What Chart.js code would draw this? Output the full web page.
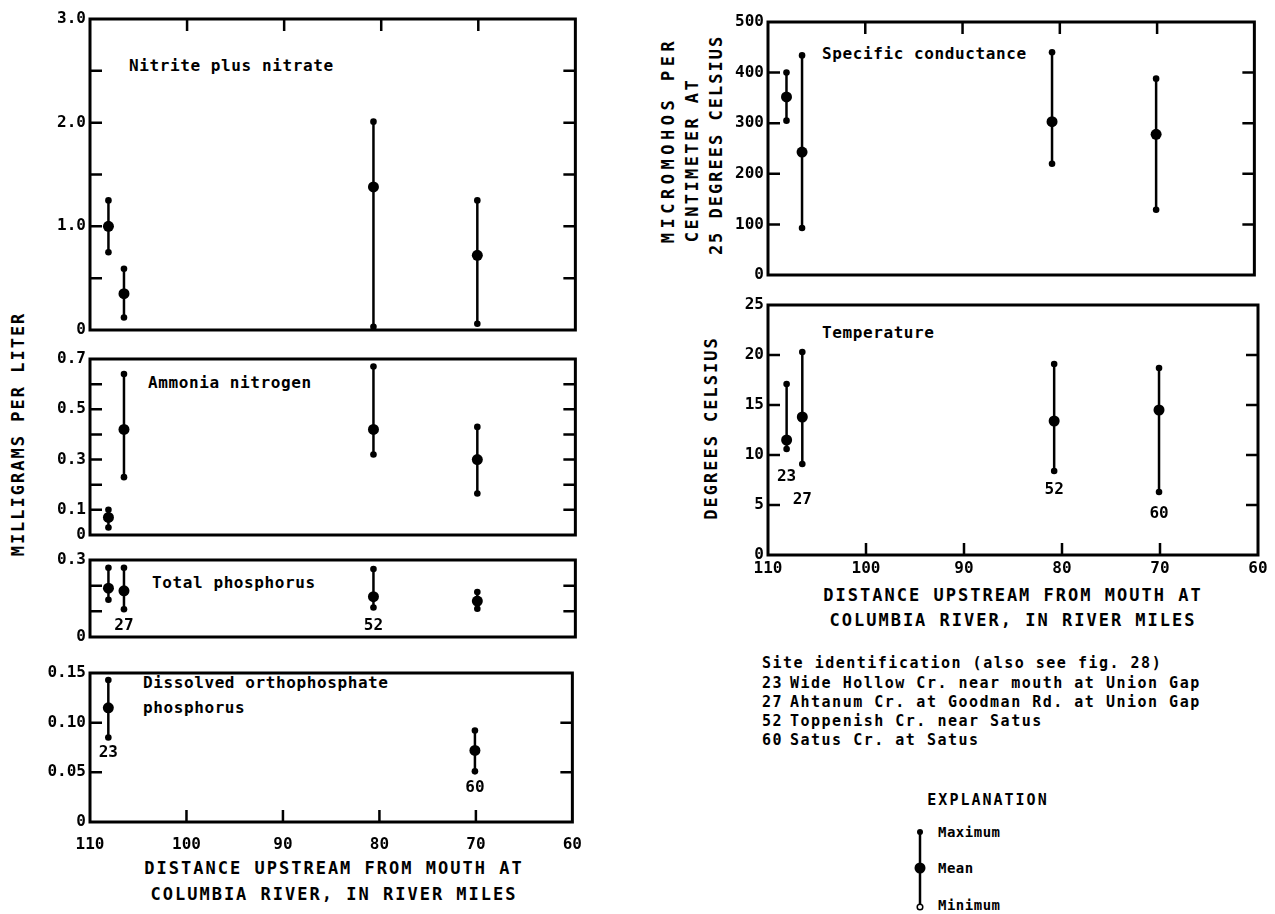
<!DOCTYPE html>
<html>
<head>
<meta charset="utf-8">
<script src="https://cdn.jsdelivr.net/npm/chart.js@4.4.1/dist/chart.umd.min.js"></script>
<style>
  body { margin: 0; background: #fff; }
  #page { position: relative; width: 1275px; height: 914px; overflow: hidden;
          font-family: "DejaVu Sans Mono", "Liberation Mono", monospace; font-weight: bold; color: #000; }
  #page canvas { position: absolute; }
  .t { position: absolute; white-space: nowrap; transform: translateY(-50%); }
  .lbl { font-size: 16px; letter-spacing: 0.6px; }
  .axt { position: absolute; white-space: nowrap; font-size: 17px; letter-spacing: 2px; transform: translate(-50%, -50%); }
  .rot { position: absolute; white-space: nowrap; font-size: 17px; letter-spacing: 2px; transform: translate(-50%, -50%) rotate(-90deg); }
  .site { font-size: 15px; letter-spacing: 1.5px; }
</style>
</head>
<body>
<div id="page">
  <!-- panel captions -->
  <div class="t lbl" style="left:129px;top:65px">Nitrite plus nitrate</div>
  <div class="t lbl" style="left:148px;top:382px">Ammonia nitrogen</div>
  <div class="t lbl" style="left:152px;top:582px">Total phosphorus</div>
  <div class="t lbl" style="left:143px;top:682px">Dissolved orthophosphate</div>
  <div class="t lbl" style="left:143px;top:707px">phosphorus</div>
  <div class="t lbl" style="left:822px;top:53px">Specific conductance</div>
  <div class="t lbl" style="left:822px;top:332px">Temperature</div>

  <!-- axis titles -->
  <div class="rot" style="left:18px;top:434px">MILLIGRAMS PER LITER</div>
  <div class="axt" style="left:334px;top:868px">DISTANCE UPSTREAM FROM MOUTH AT</div>
  <div class="axt" style="left:334px;top:894px">COLUMBIA RIVER, IN RIVER MILES</div>
  <div class="rot" style="left:668px;top:140px;letter-spacing:4.5px">MICROMOHOS PER</div>
  <div class="rot" style="left:692px;top:160px;letter-spacing:2.4px">CENTIMETER AT</div>
  <div class="rot" style="left:716px;top:145px;letter-spacing:2px">25 DEGREES CELSIUS</div>
  <div class="rot" style="left:711px;top:428px">DEGREES CELSIUS</div>
  <div class="axt" style="left:1013px;top:595px">DISTANCE UPSTREAM FROM MOUTH AT</div>
  <div class="axt" style="left:1013px;top:620px">COLUMBIA RIVER, IN RIVER MILES</div>

  <!-- site identification -->
  <div class="t site" style="left:762px;top:663px">Site identification (also see fig. 28)</div>
  <div id="siteList"></div>

  <!-- explanation -->
  <div class="axt" style="left:988px;top:800px;font-size:15px">EXPLANATION</div>
  <div class="t site" style="left:938px;top:832px;font-size:14px;letter-spacing:0.5px">Maximum</div>
  <div class="t site" style="left:938px;top:868px;font-size:14px;letter-spacing:0.5px">Mean</div>
  <div class="t site" style="left:938px;top:905px;font-size:14px;letter-spacing:0.5px">Minimum</div>
  <canvas id="legendMark" width="30" height="96" style="left:905px;top:822px"></canvas>
</div>

<script>
// ---- data ----
const sites = ['23', '27', '52', '60'];
const siteNames = [
  'Wide Hollow Cr. near mouth at Union Gap',
  'Ahtanum Cr. at Goodman Rd. at Union Gap',
  'Toppenish Cr. near Satus',
  'Satus Cr. at Satus'
];
const riverMile = [108.1, 106.5, 80.8, 70.1];
const mileTicks = ['60', '70', '80', '90', '100', '110'];

const nitriteMax = [1.25, 0.59, 2.01, 1.25];
const nitriteMean = [1.0, 0.35, 1.38, 0.72];
const nitriteMin = [0.75, 0.12, 0.03, 0.06];
const nitriteTicks = ['0', '', '1.0', '', '2.0', '', '3.0'];

const ammoniaMax = [0.10, 0.64, 0.67, 0.43];
const ammoniaMean = [0.07, 0.42, 0.42, 0.30];
const ammoniaMin = [0.03, 0.23, 0.32, 0.165];
const ammoniaTicks = ['0', '0.1', '', '0.3', '', '0.5', '', '0.7'];

const phosMax = [0.27, 0.27, 0.265, 0.175];
const phosMean = [0.19, 0.18, 0.157, 0.14];
const phosMin = [0.145, 0.108, 0.115, 0.11];
const phosTicks = ['0', '', '', '0.3'];
const phosLabelY = [null, 0.043, 0.043, null];

const orthoMax = [0.143, null, null, 0.092];
const orthoMean = [0.115, null, null, 0.072];
const orthoMin = [0.085, null, null, 0.051];
const orthoTicks = ['0', '0.05', '0.10', '0.15'];
const orthoLabelY = [0.070, null, null, 0.034];

const condMax = [400, 434, 440, 388];
const condMean = [352, 243, 303, 278];
const condMin = [305, 93, 220, 129];
const condTicks = ['0', '100', '200', '300', '400', '500'];

const tempMax = [17.1, 20.3, 19.1, 18.7];
const tempMean = [11.5, 13.8, 13.4, 14.5];
const tempMin = [10.6, 9.1, 8.4, 6.3];
const tempTicks = ['0', '5', '10', '15', '20', '25'];
const tempLabelY = [7.8, 5.5, 6.5, 4.1];

const MONO = '"DejaVu Sans Mono", "Liberation Mono", monospace';
const page = document.getElementById('page');

// box with inward ticks on every side
const framePlugin = {
  id: 'frame',
  afterDraw(chart, args, o) {
    const { ctx, chartArea: a, scales: { x, y } } = chart;
    ctx.save();
    ctx.strokeStyle = '#000';
    ctx.lineWidth = 3;
    ctx.strokeRect(a.left, a.top, a.right - a.left, a.bottom - a.top);
    ctx.lineWidth = 2.5;
    ctx.beginPath();
    y.ticks.forEach((t, i) => {
      if (i === 0 || i === y.ticks.length - 1) return;
      const py = y.getPixelForValue(t.value);
      ctx.moveTo(a.left, py); ctx.lineTo(a.left + 12, py);
      ctx.moveTo(a.right, py); ctx.lineTo(a.right - 12, py);
    });
    mileTicks.slice(1, -1).forEach(m => {
      const px = x.getPixelForValue(Number(m));
      if (o.top) { ctx.moveTo(px, a.top); ctx.lineTo(px, a.top + 12); }
      if (o.bottom) { ctx.moveTo(px, a.bottom); ctx.lineTo(px, a.bottom - 12); }
    });
    ctx.stroke();
    ctx.restore();
  }
};

// site numbers written under the bars
const siteLabelPlugin = {
  id: 'siteLabels',
  afterDraw(chart, args, o) {
    if (!o.pos) return;
    const { ctx, scales: { x, y } } = chart;
    ctx.save();
    ctx.fillStyle = '#000';
    ctx.font = 'bold 16px ' + MONO;
    ctx.textAlign = 'center';
    ctx.textBaseline = 'middle';
    sites.forEach((s, i) => {
      if (o.pos[i] == null) return;
      ctx.fillText(s, x.getPixelForValue(riverMile[i]), y.getPixelForValue(o.pos[i]));
    });
    ctx.restore();
  }
};

function panel(cfg) {
  const padT = 14, padR = 16, yW = 70;
  const xH = cfg.showX ? 36 : 0, padB = cfg.showX ? 0 : 14;
  const w = cfg.right - cfg.left, h = cfg.bottom - cfg.top;
  const cv = document.createElement('canvas');
  cv.width = w + yW + padR;
  cv.height = h + padT + xH + padB;
  cv.style.left = (cfg.left - yW) + 'px';
  cv.style.top = (cfg.top - padT) + 'px';
  page.appendChild(cv);

  const datasets = [];
  sites.forEach((s, i) => {
    if (cfg.max[i] == null) return;
    datasets.push({
      data: [{ x: riverMile[i], y: cfg.min[i] }, { x: riverMile[i], y: cfg.max[i] }],
      showLine: true, borderColor: '#000', borderWidth: 2.5,
      pointRadius: 3.3, pointBackgroundColor: '#000', pointBorderColor: '#000', pointBorderWidth: 0
    });
  });
  datasets.push({
    data: sites.map((s, i) => cfg.mean[i] == null ? null : { x: riverMile[i], y: cfg.mean[i] }).filter(Boolean),
    showLine: false, pointRadius: 5.5, pointBackgroundColor: '#000', pointBorderColor: '#000', pointBorderWidth: 0
  });

  new Chart(cv, {
    type: 'scatter',
    data: { datasets },
    options: {
      responsive: false, animation: false, events: [],
      layout: { padding: { top: padT, right: padR, bottom: padB, left: 0 } },
      plugins: {
        legend: { display: false }, tooltip: { enabled: false },
        frame: { top: cfg.topTicks, bottom: cfg.bottomTicks },
        siteLabels: { pos: cfg.labelY }
      },
      scales: {
        x: {
          type: 'linear', min: 60, max: 110, reverse: true, display: cfg.showX,
          afterFit: s => { s.height = xH; },
          grid: { display: false, drawTicks: false }, border: { display: false },
          ticks: { stepSize: 10, padding: cfg.xPad || 10, color: '#000', maxRotation: 0, autoSkip: false,
                   font: { family: MONO, size: 16, weight: 'bold' },
                   callback: v => mileTicks.find(t => Number(t) === v) }
        },
        y: {
          min: 0, max: cfg.yMax,
          afterFit: s => { s.width = yW; },
          grid: { display: false, drawTicks: false }, border: { display: false },
          ticks: { stepSize: cfg.step, padding: 4, color: '#000', autoSkip: false,
                   font: { family: MONO, size: 16, weight: 'bold' }, callback: (v, i) => cfg.ticks[i] }
        }
      }
    },
    plugins: [framePlugin, siteLabelPlugin]
  });
}

// left column
panel({ left: 90, right: 579, top: 19, bottom: 330, yMax: 3, step: 0.5, ticks: nitriteTicks,
        max: nitriteMax, mean: nitriteMean, min: nitriteMin, topTicks: true });
panel({ left: 90, right: 579, top: 359, bottom: 535, yMax: 0.7, step: 0.1, ticks: ammoniaTicks,
        max: ammoniaMax, mean: ammoniaMean, min: ammoniaMin });
panel({ left: 90, right: 579, top: 560, bottom: 637, yMax: 0.3, step: 0.1, ticks: phosTicks,
        max: phosMax, mean: phosMean, min: phosMin, labelY: phosLabelY });
panel({ left: 90, right: 579, top: 673, bottom: 822, yMax: 0.15, step: 0.05, ticks: orthoTicks,
        max: orthoMax, mean: orthoMean, min: orthoMin, labelY: orthoLabelY,
        showX: true, bottomTicks: true, xPad: 13 });
// right column
panel({ left: 768, right: 1258, top: 22, bottom: 275, yMax: 500, step: 100, ticks: condTicks,
        max: condMax, mean: condMean, min: condMin, topTicks: true });
panel({ left: 768, right: 1258, top: 305, bottom: 555, yMax: 25, step: 5, ticks: tempTicks,
        max: tempMax, mean: tempMean, min: tempMin, labelY: tempLabelY,
        showX: true, bottomTicks: true, xPad: 4 });

// site list
const list = document.getElementById('siteList');
sites.forEach((s, i) => {
  const y = 683 + i * 19;
  list.insertAdjacentHTML('beforeend',
    `<div class="t site" style="left:762px;top:${y}px">${s}</div>` +
    `<div class="t site" style="left:790px;top:${y}px">${siteNames[i]}</div>`);
});

// explanation symbol
const lg = document.getElementById('legendMark').getContext('2d');
lg.strokeStyle = '#000'; lg.fillStyle = '#000'; lg.lineWidth = 2.5;
lg.beginPath(); lg.moveTo(15, 10); lg.lineTo(15, 82); lg.stroke();
lg.beginPath(); lg.arc(15, 10, 3, 0, Math.PI * 2); lg.fill();
lg.beginPath(); lg.arc(15, 46, 5.5, 0, Math.PI * 2); lg.fill();
lg.lineWidth = 1.5;
lg.beginPath(); lg.arc(15, 85, 2.8, 0, Math.PI * 2); lg.fillStyle = '#fff'; lg.fill(); lg.stroke();
</script>
</body>
</html>
